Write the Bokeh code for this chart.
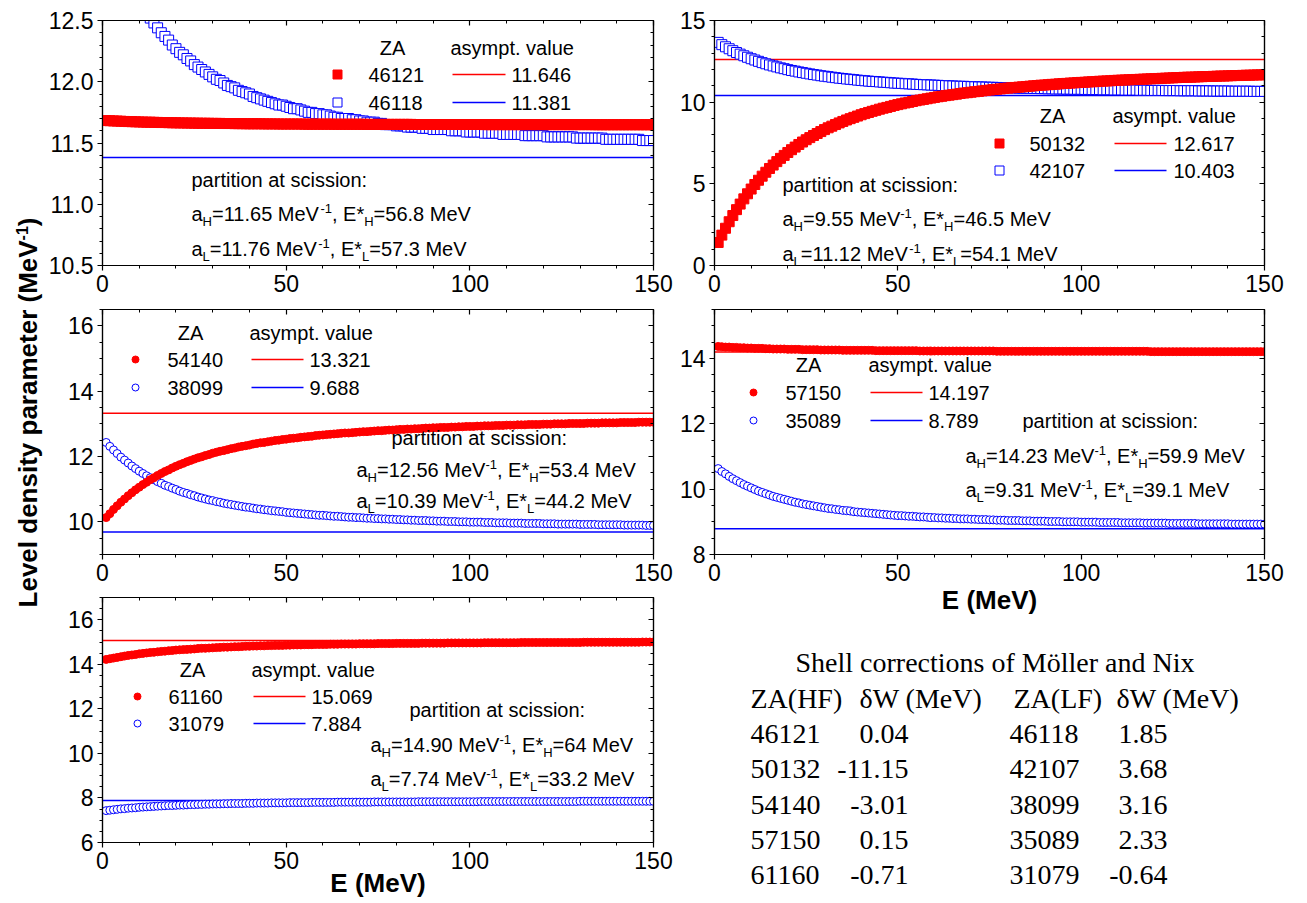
import math
from bokeh.plotting import figure
from bokeh.models import (Range1d, FixedTicker, LinearAxis, CustomJSTickFormatter,
                          PrintfTickFormatter, Label)
from bokeh.layouts import row, column
from bokeh.embed import file_html
from bokeh.resources import INLINE

SANS = "Liberation Sans"
SERIF = "Liberation Serif"

# ---------------------------------------------------------------- data ----
energy = list(range(1, 151))  # excitation energy grid (MeV)

za_heavy = ["46121", "50132", "54140", "57150", "61160"]
za_light = ["46118", "42107", "38099", "35089", "31079"]
asym_heavy = [11.646, 12.617, 13.321, 14.197, 15.069]
asym_light = [11.381, 10.403, 9.688, 8.789, 7.884]

a_heavy_scission = ["11.65", "9.55", "12.56", "14.23", "14.90"]
e_heavy_scission = ["56.8", "46.5", "53.4", "59.9", "64"]
a_light_scission = ["11.76", "11.12", "10.39", "9.31", "7.74"]
e_light_scission = ["57.3", "54.1", "44.2", "39.1", "33.2"]

dw_heavy = ["0.04", "-11.15", "-3.01", "0.15", "-0.71"]
dw_light = ["1.85", "3.68", "3.16", "2.33", "-0.64"]

a_46121 = [
    11.683, 11.682, 11.680, 11.679, 11.678, 11.676, 11.675, 11.674, 11.673, 11.672,
    11.671, 11.670, 11.670, 11.669, 11.668, 11.667, 11.667, 11.666, 11.665, 11.665,
    11.664, 11.664, 11.663, 11.663, 11.662, 11.662, 11.661, 11.661, 11.661, 11.660,
    11.660, 11.660, 11.659, 11.659, 11.659, 11.658, 11.658, 11.658, 11.657, 11.657,
    11.657, 11.657, 11.657, 11.656, 11.656, 11.656, 11.656, 11.655, 11.655, 11.655,
    11.655, 11.655, 11.655, 11.655, 11.654, 11.654, 11.654, 11.654, 11.654, 11.654,
    11.654, 11.654, 11.653, 11.653, 11.653, 11.653, 11.653, 11.653, 11.653, 11.653,
    11.653, 11.652, 11.652, 11.652, 11.652, 11.652, 11.652, 11.652, 11.652, 11.652,
    11.652, 11.652, 11.652, 11.652, 11.651, 11.651, 11.651, 11.651, 11.651, 11.651,
    11.651, 11.651, 11.651, 11.651, 11.651, 11.651, 11.651, 11.651, 11.651, 11.651,
    11.651, 11.651, 11.651, 11.650, 11.650, 11.650, 11.650, 11.650, 11.650, 11.650,
    11.650, 11.650, 11.650, 11.650, 11.650, 11.650, 11.650, 11.650, 11.650, 11.650,
    11.650, 11.650, 11.650, 11.650, 11.650, 11.650, 11.650, 11.650, 11.650, 11.650,
    11.650, 11.650, 11.650, 11.649, 11.649, 11.649, 11.649, 11.649, 11.649, 11.649,
    11.649, 11.649, 11.649, 11.649, 11.649, 11.649, 11.649, 11.649, 11.649, 11.649,
]
a_46118 = [
    13.27, 13.19, 13.11, 13.03, 12.96, 12.89, 12.83, 12.77, 12.72, 12.66,
    12.61, 12.57, 12.52, 12.48, 12.44, 12.40, 12.37, 12.34, 12.30, 12.27,
    12.24, 12.22, 12.19, 12.17, 12.14, 12.12, 12.10, 12.08, 12.06, 12.04,
    12.02, 12.01, 11.99, 11.97, 11.96, 11.95, 11.93, 11.92, 11.91, 11.90,
    11.88, 11.87, 11.86, 11.85, 11.84, 11.83, 11.82, 11.81, 11.81, 11.80,
    11.79, 11.78, 11.78, 11.77, 11.76, 11.75, 11.75, 11.74, 11.74, 11.73,
    11.73, 11.72, 11.71, 11.71, 11.70, 11.70, 11.70, 11.69, 11.69, 11.68,
    11.68, 11.67, 11.67, 11.67, 11.66, 11.66, 11.65, 11.65, 11.65, 11.64,
    11.64, 11.64, 11.63, 11.63, 11.63, 11.63, 11.62, 11.62, 11.62, 11.61,
    11.61, 11.61, 11.61, 11.61, 11.60, 11.60, 11.60, 11.60, 11.59, 11.59,
    11.59, 11.59, 11.59, 11.58, 11.58, 11.58, 11.58, 11.58, 11.57, 11.57,
    11.57, 11.57, 11.57, 11.57, 11.56, 11.56, 11.56, 11.56, 11.56, 11.56,
    11.55, 11.55, 11.55, 11.55, 11.55, 11.55, 11.55, 11.55, 11.54, 11.54,
    11.54, 11.54, 11.54, 11.54, 11.54, 11.54, 11.53, 11.53, 11.53, 11.53,
    11.53, 11.53, 11.53, 11.53, 11.53, 11.53, 11.52, 11.52, 11.52, 11.52,
]
a_50132 = [
    1.41, 1.86, 2.28, 2.68, 3.06, 3.42, 3.76, 4.08, 4.39, 4.68,
    4.96, 5.22, 5.47, 5.71, 5.94, 6.15, 6.36, 6.56, 6.74, 6.92,
    7.09, 7.25, 7.41, 7.56, 7.70, 7.83, 7.96, 8.08, 8.20, 8.32,
    8.43, 8.53, 8.63, 8.73, 8.82, 8.91, 8.99, 9.07, 9.15, 9.23,
    9.30, 9.37, 9.44, 9.50, 9.57, 9.63, 9.68, 9.74, 9.80, 9.85,
    9.90, 9.95, 9.99, 10.04, 10.09, 10.13, 10.17, 10.21, 10.25, 10.29,
    10.33, 10.36, 10.40, 10.43, 10.46, 10.49, 10.53, 10.56, 10.58, 10.61,
    10.64, 10.66, 10.69, 10.72, 10.74, 10.77, 10.79, 10.81, 10.84, 10.86,
    10.88, 10.90, 10.92, 10.94, 10.96, 10.98, 11.00, 11.02, 11.04, 11.05,
    11.07, 11.09, 11.10, 11.12, 11.14, 11.15, 11.17, 11.18, 11.20, 11.21,
    11.22, 11.24, 11.25, 11.26, 11.28, 11.29, 11.30, 11.31, 11.33, 11.34,
    11.35, 11.36, 11.37, 11.38, 11.39, 11.40, 11.41, 11.42, 11.43, 11.44,
    11.45, 11.46, 11.47, 11.48, 11.49, 11.50, 11.51, 11.52, 11.53, 11.53,
    11.54, 11.55, 11.56, 11.57, 11.57, 11.58, 11.59, 11.60, 11.60, 11.61,
    11.62, 11.63, 11.63, 11.64, 11.65, 11.65, 11.66, 11.67, 11.67, 11.68,
]
a_42107 = [
    13.66, 13.52, 13.39, 13.27, 13.15, 13.04, 12.94, 12.84, 12.75, 12.66,
    12.58, 12.50, 12.42, 12.35, 12.28, 12.22, 12.16, 12.10, 12.05, 11.99,
    11.94, 11.90, 11.85, 11.81, 11.77, 11.73, 11.69, 11.66, 11.62, 11.59,
    11.56, 11.53, 11.50, 11.47, 11.45, 11.42, 11.40, 11.38, 11.35, 11.33,
    11.31, 11.29, 11.27, 11.26, 11.24, 11.22, 11.21, 11.19, 11.17, 11.16,
    11.15, 11.13, 11.12, 11.11, 11.09, 11.08, 11.07, 11.06, 11.05, 11.04,
    11.03, 11.02, 11.01, 11.00, 10.99, 10.98, 10.97, 10.97, 10.96, 10.95,
    10.94, 10.93, 10.93, 10.92, 10.91, 10.91, 10.90, 10.89, 10.89, 10.88,
    10.88, 10.87, 10.86, 10.86, 10.85, 10.85, 10.84, 10.84, 10.83, 10.83,
    10.82, 10.82, 10.81, 10.81, 10.81, 10.80, 10.80, 10.79, 10.79, 10.79,
    10.78, 10.78, 10.77, 10.77, 10.77, 10.76, 10.76, 10.76, 10.75, 10.75,
    10.75, 10.74, 10.74, 10.74, 10.74, 10.73, 10.73, 10.73, 10.72, 10.72,
    10.72, 10.72, 10.71, 10.71, 10.71, 10.71, 10.70, 10.70, 10.70, 10.70,
    10.70, 10.69, 10.69, 10.69, 10.69, 10.68, 10.68, 10.68, 10.68, 10.68,
    10.67, 10.67, 10.67, 10.67, 10.67, 10.67, 10.66, 10.66, 10.66, 10.66,
]
a_54140 = [
    10.13, 10.25, 10.38, 10.49, 10.60, 10.70, 10.80, 10.89, 10.98, 11.06,
    11.14, 11.21, 11.29, 11.35, 11.42, 11.48, 11.54, 11.59, 11.65, 11.70,
    11.75, 11.79, 11.84, 11.88, 11.92, 11.96, 11.99, 12.03, 12.06, 12.10,
    12.13, 12.16, 12.18, 12.21, 12.24, 12.26, 12.29, 12.31, 12.33, 12.35,
    12.38, 12.40, 12.42, 12.43, 12.45, 12.47, 12.49, 12.50, 12.52, 12.53,
    12.55, 12.56, 12.57, 12.59, 12.60, 12.61, 12.62, 12.64, 12.65, 12.66,
    12.67, 12.68, 12.69, 12.70, 12.71, 12.72, 12.72, 12.73, 12.74, 12.75,
    12.76, 12.76, 12.77, 12.78, 12.79, 12.79, 12.80, 12.81, 12.81, 12.82,
    12.83, 12.83, 12.84, 12.84, 12.85, 12.85, 12.86, 12.87, 12.87, 12.88,
    12.88, 12.89, 12.89, 12.89, 12.90, 12.90, 12.91, 12.91, 12.92, 12.92,
    12.92, 12.93, 12.93, 12.94, 12.94, 12.94, 12.95, 12.95, 12.95, 12.96,
    12.96, 12.96, 12.97, 12.97, 12.97, 12.98, 12.98, 12.98, 12.98, 12.99,
    12.99, 12.99, 13.00, 13.00, 13.00, 13.00, 13.01, 13.01, 13.01, 13.01,
    13.01, 13.02, 13.02, 13.02, 13.02, 13.03, 13.03, 13.03, 13.03, 13.03,
    13.04, 13.04, 13.04, 13.04, 13.04, 13.05, 13.05, 13.05, 13.05, 13.05,
]
a_38099 = [
    12.43, 12.31, 12.20, 12.09, 11.98, 11.89, 11.80, 11.71, 11.63, 11.55,
    11.48, 11.41, 11.35, 11.29, 11.23, 11.18, 11.12, 11.08, 11.03, 10.99,
    10.94, 10.90, 10.87, 10.83, 10.80, 10.76, 10.73, 10.70, 10.67, 10.65,
    10.62, 10.60, 10.57, 10.55, 10.53, 10.51, 10.49, 10.47, 10.45, 10.44,
    10.42, 10.40, 10.39, 10.37, 10.36, 10.34, 10.33, 10.32, 10.31, 10.29,
    10.28, 10.27, 10.26, 10.25, 10.24, 10.23, 10.22, 10.21, 10.20, 10.20,
    10.19, 10.18, 10.17, 10.17, 10.16, 10.15, 10.14, 10.14, 10.13, 10.13,
    10.12, 10.11, 10.11, 10.10, 10.10, 10.09, 10.09, 10.08, 10.08, 10.07,
    10.07, 10.06, 10.06, 10.05, 10.05, 10.04, 10.04, 10.04, 10.03, 10.03,
    10.02, 10.02, 10.02, 10.01, 10.01, 10.01, 10.00, 10.00, 10.00, 9.99,
    9.99, 9.99, 9.99, 9.98, 9.98, 9.98, 9.97, 9.97, 9.97, 9.97,
    9.96, 9.96, 9.96, 9.96, 9.95, 9.95, 9.95, 9.95, 9.95, 9.94,
    9.94, 9.94, 9.94, 9.93, 9.93, 9.93, 9.93, 9.93, 9.93, 9.92,
    9.92, 9.92, 9.92, 9.92, 9.91, 9.91, 9.91, 9.91, 9.91, 9.91,
    9.91, 9.90, 9.90, 9.90, 9.90, 9.90, 9.90, 9.89, 9.89, 9.89,
]
a_57150 = [
    14.37, 14.36, 14.35, 14.35, 14.34, 14.34, 14.33, 14.33, 14.32, 14.32,
    14.31, 14.31, 14.31, 14.30, 14.30, 14.29, 14.29, 14.29, 14.29, 14.28,
    14.28, 14.28, 14.28, 14.27, 14.27, 14.27, 14.27, 14.27, 14.26, 14.26,
    14.26, 14.26, 14.26, 14.26, 14.25, 14.25, 14.25, 14.25, 14.25, 14.25,
    14.25, 14.25, 14.25, 14.24, 14.24, 14.24, 14.24, 14.24, 14.24, 14.24,
    14.24, 14.24, 14.24, 14.24, 14.24, 14.23, 14.23, 14.23, 14.23, 14.23,
    14.23, 14.23, 14.23, 14.23, 14.23, 14.23, 14.23, 14.23, 14.23, 14.23,
    14.23, 14.23, 14.23, 14.23, 14.23, 14.23, 14.22, 14.22, 14.22, 14.22,
    14.22, 14.22, 14.22, 14.22, 14.22, 14.22, 14.22, 14.22, 14.22, 14.22,
    14.22, 14.22, 14.22, 14.22, 14.22, 14.22, 14.22, 14.22, 14.22, 14.22,
    14.22, 14.22, 14.22, 14.22, 14.22, 14.22, 14.22, 14.22, 14.22, 14.22,
    14.22, 14.22, 14.22, 14.22, 14.22, 14.22, 14.22, 14.22, 14.21, 14.21,
    14.21, 14.21, 14.21, 14.21, 14.21, 14.21, 14.21, 14.21, 14.21, 14.21,
    14.21, 14.21, 14.21, 14.21, 14.21, 14.21, 14.21, 14.21, 14.21, 14.21,
    14.21, 14.21, 14.21, 14.21, 14.21, 14.21, 14.21, 14.21, 14.21, 14.21,
]
a_35089 = [
    10.63, 10.54, 10.47, 10.39, 10.32, 10.26, 10.20, 10.14, 10.09, 10.04,
    9.99, 9.94, 9.90, 9.86, 9.82, 9.78, 9.75, 9.72, 9.69, 9.66,
    9.63, 9.60, 9.58, 9.55, 9.53, 9.51, 9.49, 9.47, 9.45, 9.43,
    9.41, 9.40, 9.38, 9.37, 9.35, 9.34, 9.33, 9.31, 9.30, 9.29,
    9.28, 9.27, 9.26, 9.25, 9.24, 9.23, 9.22, 9.21, 9.20, 9.19,
    9.19, 9.18, 9.17, 9.17, 9.16, 9.15, 9.15, 9.14, 9.13, 9.13,
    9.12, 9.12, 9.11, 9.11, 9.10, 9.10, 9.09, 9.09, 9.09, 9.08,
    9.08, 9.07, 9.07, 9.07, 9.06, 9.06, 9.05, 9.05, 9.05, 9.04,
    9.04, 9.04, 9.04, 9.03, 9.03, 9.03, 9.02, 9.02, 9.02, 9.02,
    9.01, 9.01, 9.01, 9.01, 9.00, 9.00, 9.00, 9.00, 9.00, 8.99,
    8.99, 8.99, 8.99, 8.99, 8.98, 8.98, 8.98, 8.98, 8.98, 8.98,
    8.97, 8.97, 8.97, 8.97, 8.97, 8.97, 8.96, 8.96, 8.96, 8.96,
    8.96, 8.96, 8.96, 8.95, 8.95, 8.95, 8.95, 8.95, 8.95, 8.95,
    8.95, 8.94, 8.94, 8.94, 8.94, 8.94, 8.94, 8.94, 8.94, 8.94,
    8.93, 8.93, 8.93, 8.93, 8.93, 8.93, 8.93, 8.93, 8.93, 8.93,
]
a_61160 = [
    14.22, 14.25, 14.28, 14.31, 14.34, 14.37, 14.40, 14.42, 14.44, 14.47,
    14.49, 14.51, 14.53, 14.54, 14.56, 14.58, 14.59, 14.61, 14.62, 14.64,
    14.65, 14.66, 14.67, 14.68, 14.69, 14.71, 14.72, 14.72, 14.73, 14.74,
    14.75, 14.76, 14.77, 14.77, 14.78, 14.79, 14.79, 14.80, 14.81, 14.81,
    14.82, 14.82, 14.83, 14.83, 14.84, 14.84, 14.85, 14.85, 14.85, 14.86,
    14.86, 14.87, 14.87, 14.87, 14.88, 14.88, 14.88, 14.89, 14.89, 14.89,
    14.89, 14.90, 14.90, 14.90, 14.91, 14.91, 14.91, 14.91, 14.91, 14.92,
    14.92, 14.92, 14.92, 14.92, 14.93, 14.93, 14.93, 14.93, 14.93, 14.94,
    14.94, 14.94, 14.94, 14.94, 14.94, 14.94, 14.95, 14.95, 14.95, 14.95,
    14.95, 14.95, 14.95, 14.96, 14.96, 14.96, 14.96, 14.96, 14.96, 14.96,
    14.96, 14.96, 14.96, 14.97, 14.97, 14.97, 14.97, 14.97, 14.97, 14.97,
    14.97, 14.97, 14.97, 14.98, 14.98, 14.98, 14.98, 14.98, 14.98, 14.98,
    14.98, 14.98, 14.98, 14.98, 14.98, 14.98, 14.98, 14.98, 14.98, 14.98,
    14.99, 14.99, 14.99, 14.99, 14.99, 14.99, 14.99, 14.99, 14.99, 14.99,
    14.99, 14.99, 14.99, 14.99, 14.99, 14.99, 15.00, 15.00, 15.00, 15.00,
]
a_31079 = [
    7.43, 7.45, 7.47, 7.49, 7.51, 7.52, 7.54, 7.55, 7.56, 7.58,
    7.59, 7.60, 7.61, 7.62, 7.63, 7.64, 7.65, 7.66, 7.66, 7.67,
    7.68, 7.68, 7.69, 7.70, 7.70, 7.71, 7.71, 7.72, 7.72, 7.73,
    7.73, 7.73, 7.74, 7.74, 7.75, 7.75, 7.75, 7.75, 7.76, 7.76,
    7.76, 7.77, 7.77, 7.77, 7.77, 7.78, 7.78, 7.78, 7.78, 7.78,
    7.79, 7.79, 7.79, 7.79, 7.79, 7.79, 7.80, 7.80, 7.80, 7.80,
    7.80, 7.80, 7.80, 7.81, 7.81, 7.81, 7.81, 7.81, 7.81, 7.81,
    7.81, 7.81, 7.81, 7.82, 7.82, 7.82, 7.82, 7.82, 7.82, 7.82,
    7.82, 7.82, 7.82, 7.82, 7.82, 7.83, 7.83, 7.83, 7.83, 7.83,
    7.83, 7.83, 7.83, 7.83, 7.83, 7.83, 7.83, 7.83, 7.83, 7.83,
    7.83, 7.83, 7.84, 7.84, 7.84, 7.84, 7.84, 7.84, 7.84, 7.84,
    7.84, 7.84, 7.84, 7.84, 7.84, 7.84, 7.84, 7.84, 7.84, 7.84,
    7.84, 7.84, 7.84, 7.84, 7.84, 7.84, 7.84, 7.84, 7.84, 7.85,
    7.85, 7.85, 7.85, 7.85, 7.85, 7.85, 7.85, 7.85, 7.85, 7.85,
    7.85, 7.85, 7.85, 7.85, 7.85, 7.85, 7.85, 7.85, 7.85, 7.85,
]

heavy_curves = [a_46121, a_50132, a_54140, a_57150, a_61160]
light_curves = [a_46118, a_42107, a_38099, a_35089, a_31079]

# ------------------------------------------------------------- styling ----
RED = "#ff0000"
BLUE = "#0000ff"
E_MIN, E_MAX = 0, 150

# Arial / Liberation Sans advance widths (em) for the characters used
W_REG = {c: 0.556 for c in "0123456789"}
W_REG.update({".": 0.278, ",": 0.278, "=": 0.584, " ": 0.278, "a": 0.556, "M": 0.833,
              "e": 0.556, "V": 0.667, "E": 0.667, "*": 0.389, "H": 0.722, "L": 0.556,
              "-": 0.333})
W_BOLD = {"L": 0.611, "e": 0.556, "v": 0.556, "l": 0.278, " ": 0.278, "d": 0.611,
          "n": 0.611, "s": 0.556, "i": 0.278, "t": 0.333, "y": 0.556, "p": 0.611,
          "a": 0.556, "r": 0.389, "m": 0.889, "(": 0.333, "M": 0.833, "V": 0.667,
          ")": 0.333, "-": 0.333, "1": 0.556}


def text_w(s, size, bold=False):
    tab = W_BOLD if bold else W_REG
    return sum(tab.get(c, 0.556) for c in s) * size


def steps(a, b, st):
    n = int(round((b - a) / st))
    return [round(a + k * st, 4) for k in range(n + 1)]


# canvas geometry: (page_x, page_y, width, height, border l, r, t, b)
GEO = [
    (45, 0, 631, 302, 57, 23, 20, 37),
    (676, 0, 631, 302, 38, 43, 20, 37),
    (45, 302, 631, 288, 57, 23, 7, 36),
    (676, 302, 631, 318, 38, 43, 7, 66),
    (45, 590, 631, 313, 57, 23, 7, 61),
]

PANELS = [
    dict(yr=(10.5, 12.5), major=[10.5, 11.0, 11.5, 12.0, 12.5], mstep=0.1, fmt="%.1f",
         marker="square", msize=10, za_cx=392, head_y=47, rows=(74, 102), mk_x=337,
         num_x=368, ln=(452, 505), val_x=511, part=(191, 179), ah=(191, 213), al=(191, 248)),
    dict(yr=(0, 15), major=[0, 5, 10, 15], mstep=1, fmt="%d",
         marker="square", msize=10, za_cx=1052, head_y=115, rows=(143, 170), mk_x=999,
         num_x=1029, ln=(1114, 1166), val_x=1173, part=(782, 184), ah=(782, 218), al=(782, 253)),
    dict(yr=(9, 16.5), major=[10, 12, 14, 16], mstep=0.5, fmt="%d",
         marker="circle", msize=8, za_cx=190, head_y=332, rows=(359, 387), mk_x=135,
         num_x=167, ln=(251, 303), val_x=309, part=(391, 437), ah=(356, 469), al=(356, 500)),
    dict(yr=(8, 15.5), major=[8, 10, 12, 14], mstep=0.5, fmt="%d",
         marker="circle", msize=8, za_cx=808, head_y=364, rows=(392, 420), mk_x=753,
         num_x=785, ln=(870, 922), val_x=928, part=(1022, 420), ah=(965, 455), al=(965, 489)),
    dict(yr=(6, 17), major=[6, 8, 10, 12, 14, 16], mstep=0.5, fmt="%d",
         marker="circle", msize=8, za_cx=192, head_y=669, rows=(696, 723), mk_x=137,
         num_x=168, ln=(253, 305), val_x=311, part=(409, 709), ah=(370, 744), al=(370, 778)),
]

TICK_FS = "23px"
ANN_FS = 20
SMALL_FS = 13


def style_axis(ax, major, minor, outer=True, fmt=None):
    ax.ticker = FixedTicker(ticks=major, minor_ticks=minor)
    ax.axis_line_color = "black"
    ax.axis_line_width = 1.2
    ax.major_tick_line_color = "black"
    ax.major_tick_line_width = 1.2
    ax.minor_tick_line_color = "black"
    ax.minor_tick_line_width = 1.0
    if outer:
        ax.major_tick_out, ax.major_tick_in = 5, 0
        ax.minor_tick_out, ax.minor_tick_in = 3, 0
        ax.major_label_standoff = 4
        ax.major_label_text_font = SANS
        ax.major_label_text_font_size = TICK_FS
        ax.major_label_text_color = "black"
        if fmt is not None:
            ax.formatter = fmt
    else:
        ax.major_tick_out, ax.major_tick_in = 0, 5
        ax.minor_tick_out, ax.minor_tick_in = 0, 3
        ax.major_label_standoff = 0
        ax.major_label_text_font_size = "0px"
        ax.formatter = CustomJSTickFormatter(code="return ''")


def build_panel(i):
    s = PANELS[i]
    gx, gy, w, h, bl, br, bt, bb = GEO[i]
    y0, y1 = s["yr"]
    fl, ft = gx + bl, gy + bt
    fw, fh = w - bl - br, h - bt - bb

    def to_d(px, py):
        return ((px - fl) / fw * (E_MAX - E_MIN) + E_MIN,
                y1 - (py - ft) / fh * (y1 - y0))

    p = figure(width=w, height=h, x_range=Range1d(E_MIN, E_MAX), y_range=Range1d(y0, y1),
               output_backend="svg", toolbar_location=None,
               min_border_left=bl, min_border_right=br, min_border_top=bt,
               min_border_bottom=bb)
    p.grid.visible = False
    p.outline_line_color = "black"
    p.outline_line_width = 1.2

    xmaj = [0, 50, 100, 150]
    xmin = steps(0, 150, 10)
    ymin = steps(y0, y1, s["mstep"])
    style_axis(p.below[0], xmaj, xmin, True, PrintfTickFormatter(format="%d"))
    style_axis(p.left[0], s["major"], ymin, True, PrintfTickFormatter(format=s["fmt"]))
    top = LinearAxis()
    right = LinearAxis()
    style_axis(top, xmaj, xmin, False)
    style_axis(right, s["major"], ymin, False)
    p.add_layout(top, "above")
    p.add_layout(right, "right")

    # asymptotic values
    p.line([E_MIN, E_MAX], [asym_heavy[i], asym_heavy[i]], line_color=RED, line_width=1.5)
    p.line([E_MIN, E_MAX], [asym_light[i], asym_light[i]], line_color=BLUE, line_width=1.5)

    # level density parameter versus excitation energy
    mk = s["marker"]
    p.scatter(energy, light_curves[i], marker=mk, size=s["msize"], line_color=BLUE,
              fill_color="white", line_width=1)
    p.scatter(energy, heavy_curves[i], marker=mk, size=s["msize"], line_color=RED,
              fill_color=RED, line_width=1)

    # legend block: ZA / asymptotic value
    def lab(px, py, text, size=ANN_FS, align="left"):
        x, y = to_d(px, py)
        p.add_layout(Label(x=x, y=y, text=text, text_font=SANS,
                           text_font_size=f"{size}px", text_align=align,
                           text_baseline="middle", text_color="black"))

    lab(s["za_cx"], s["head_y"], "ZA", align="center")
    lab(s["ln"][0] - 2, s["head_y"], "asympt. value")
    for k, (za, av, col) in enumerate([(za_heavy[i], asym_heavy[i], RED),
                                       (za_light[i], asym_light[i], BLUE)]):
        ry = s["rows"][k]
        mx, my = to_d(s["mk_x"], ry)
        p.scatter([mx], [my], marker=mk, size=s["msize"] - 1, line_color=col,
                  fill_color=(RED if k == 0 else "white"), line_width=1)
        lx0, ly = to_d(s["ln"][0], ry)
        lx1, _ = to_d(s["ln"][1], ry)
        p.segment(x0=[lx0], y0=[ly], x1=[lx1], y1=[ly], line_color=col, line_width=1.5)
        lab(s["num_x"], ry, za)
        lab(s["val_x"], ry, f"{av:.3f}")

    # partition at scission
    lab(s["part"][0], s["part"][1], "partition at scission:")

    def rich(px, py, parts):
        x = px
        for txt, kind in parts:
            fs = ANN_FS if kind == "n" else SMALL_FS
            dy = {"n": 0, "sub": 8, "sup": -5}[kind]
            lab(x, py + dy, txt, size=fs)
            x += text_w(txt, fs)

    rich(s["ah"][0], s["ah"][1],
         [("a", "n"), ("H", "sub"), (f"={a_heavy_scission[i]} MeV", "n"), ("-1", "sup"),
          (", E*", "n"), ("H", "sub"), (f"={e_heavy_scission[i]} MeV", "n")])
    rich(s["al"][0], s["al"][1],
         [("a", "n"), ("L", "sub"), (f"={a_light_scission[i]} MeV", "n"), ("-1", "sup"),
          (", E*", "n"), ("L", "sub"), (f"={e_light_scission[i]} MeV", "n")])
    return p


panels = [build_panel(i) for i in range(5)]

# x-axis titles on the lowest panel of each column
for i, sto in ((3, 1), (4, -4)):
    ax = panels[i].below[0]
    ax.axis_label = "E (MeV)"
    ax.axis_label_text_font = SANS
    ax.axis_label_text_font_style = "bold"
    ax.axis_label_text_font_size = "26px"
    ax.axis_label_text_color = "black"
    ax.axis_label_standoff = sto


def blank(w, h, xr, yr, bl=0, br=0):
    f = figure(width=w, height=h, x_range=Range1d(*xr), y_range=Range1d(*yr),
               output_backend="svg", toolbar_location=None,
               x_axis_type=None, y_axis_type=None, min_border=0,
               min_border_left=bl, min_border_right=br)
    f.outline_line_color = None
    f.grid.visible = False
    return f


# shared y-axis title, rotated
ylab = blank(45, 903, (0, 45), (0, 903))
YL_FS, YL_SUP = 26, 16
pieces = [("Level density parameter (MeV", YL_FS, 0), ("-1", YL_SUP, -6), (")", YL_FS, 0)]
total = sum(text_w(t, fs, bold=True) for t, fs, _ in pieces)
mid_x, center_y = 27, 412
yy = (903 - center_y) - total / 2
for t, fs, dx in pieces:
    ylab.add_layout(Label(x=mid_x + dx, y=yy, text=t, angle=math.pi / 2,
                          text_font=SANS, text_font_style="bold",
                          text_font_size=f"{fs}px", text_align="left",
                          text_baseline="middle", text_color="black"))
    yy += text_w(t, fs, bold=True)

# shell-correction table (frame aligned with the right-hand panels)
TX0, TY0, TH = 714, 620, 283
tb = blank(631, TH, (0, 550), (0, TH), bl=38, br=43)


def tlabel(px, py, text, align="left"):
    tb.add_layout(Label(x=px - TX0, y=(TY0 + TH) - py, text=text, text_font=SERIF,
                        text_font_size="28px", text_align=align, text_baseline="middle",
                        text_color="black"))


tlabel(795, 662, "Shell corrections of Möller and Nix")
tlabel(750, 698, "ZA(HF)")
tlabel(859, 698, "δW (MeV)")
tlabel(1013, 698, "ZA(LF)")
tlabel(1116, 698, "δW (MeV)")
row_y = [733, 768, 804, 839, 874]
for k in range(5):
    tlabel(750, row_y[k], za_heavy[k])
    tlabel(908, row_y[k], dw_heavy[k], align="right")
    tlabel(1009, row_y[k], za_light[k])
    tlabel(1167, row_y[k], dw_light[k], align="right")

left_col = column(panels[0], panels[2], panels[4], spacing=0)
right_col = column(panels[1], panels[3], tb, spacing=0)
page = row(ylab, left_col, right_col, spacing=0)

open("out.html", "w").write(file_html(page, INLINE, title="Level density parameter"))
